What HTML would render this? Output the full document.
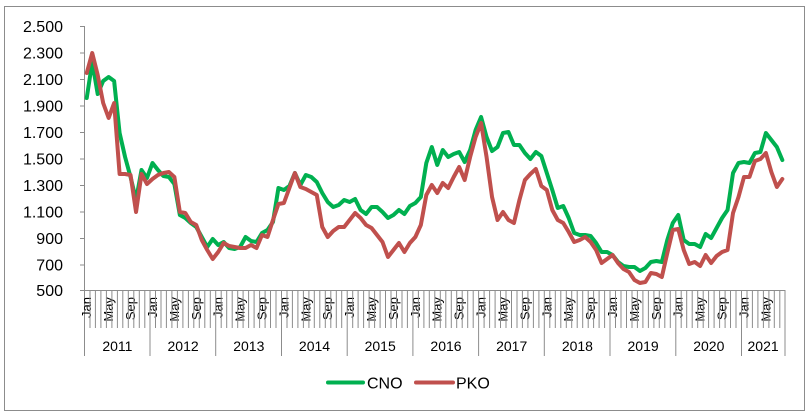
<!DOCTYPE html>
<html><head><meta charset="utf-8"><style>
html,body{margin:0;padding:0;background:#fff;}
svg{display:block;font-family:"Liberation Sans",Arial,sans-serif;}
</style></head><body>
<svg width="812" height="419" viewBox="0 0 812 419" xmlns="http://www.w3.org/2000/svg">
<rect x="0" y="0" width="812" height="419" fill="#fff"/>
<rect x="4.5" y="6.5" width="800" height="404" fill="none" stroke="#8c8c8c" stroke-width="1"/>
<g stroke="#8c8c8c" stroke-width="1" fill="none">
<line x1="84.5" y1="26" x2="84.5" y2="290"/>
<line x1="80" y1="26.5" x2="84.5" y2="26.5"/>
<line x1="80" y1="53" x2="84.5" y2="53"/>
<line x1="80" y1="79.5" x2="84.5" y2="79.5"/>
<line x1="80" y1="106" x2="84.5" y2="106"/>
<line x1="80" y1="132.5" x2="84.5" y2="132.5"/>
<line x1="80" y1="159" x2="84.5" y2="159"/>
<line x1="80" y1="185.5" x2="84.5" y2="185.5"/>
<line x1="80" y1="212" x2="84.5" y2="212"/>
<line x1="80" y1="238.5" x2="84.5" y2="238.5"/>
<line x1="80" y1="265" x2="84.5" y2="265"/>
<line x1="80" y1="290.5" x2="785" y2="290.5"/>
</g>
<g stroke="#8c8c8c" stroke-width="1" id="ticks">
<line x1="84.5" y1="290" x2="84.5" y2="356"/>
</g>
<g fill="#000" font-size="16" text-anchor="end">
<text x="63" y="32">2.500</text>
<text x="63" y="58.5">2.300</text>
<text x="63" y="85">2.100</text>
<text x="63" y="111.5">1.900</text>
<text x="63" y="138">1.700</text>
<text x="63" y="164.5">1.500</text>
<text x="63" y="191">1.300</text>
<text x="63" y="217.5">1.100</text>
<text x="63" y="244">900</text>
<text x="63" y="270.5">700</text>
<text x="63" y="296">500</text>
</g>
<g fill="#000" font-size="13" text-anchor="end">
<text transform="translate(91.2,297) rotate(-90)">Jan</text><text transform="translate(113.1,297) rotate(-90)">May</text><text transform="translate(135,297) rotate(-90)">Sep</text>
<text transform="translate(157,297) rotate(-90)">Jan</text><text transform="translate(178.9,297) rotate(-90)">May</text><text transform="translate(200.8,297) rotate(-90)">Sep</text>
<text transform="translate(222.7,297) rotate(-90)">Jan</text><text transform="translate(244.6,297) rotate(-90)">May</text><text transform="translate(266.5,297) rotate(-90)">Sep</text>
<text transform="translate(288.4,297) rotate(-90)">Jan</text><text transform="translate(310.3,297) rotate(-90)">May</text><text transform="translate(332.2,297) rotate(-90)">Sep</text>
<text transform="translate(354.1,297) rotate(-90)">Jan</text><text transform="translate(376,297) rotate(-90)">May</text><text transform="translate(397.9,297) rotate(-90)">Sep</text>
<text transform="translate(419.8,297) rotate(-90)">Jan</text><text transform="translate(441.7,297) rotate(-90)">May</text><text transform="translate(463.6,297) rotate(-90)">Sep</text>
<text transform="translate(485.6,297) rotate(-90)">Jan</text><text transform="translate(507.5,297) rotate(-90)">May</text><text transform="translate(529.4,297) rotate(-90)">Sep</text>
<text transform="translate(551.3,297) rotate(-90)">Jan</text><text transform="translate(573.2,297) rotate(-90)">May</text><text transform="translate(595.1,297) rotate(-90)">Sep</text>
<text transform="translate(617,297) rotate(-90)">Jan</text><text transform="translate(638.9,297) rotate(-90)">May</text><text transform="translate(660.8,297) rotate(-90)">Sep</text>
<text transform="translate(682.7,297) rotate(-90)">Jan</text><text transform="translate(704.6,297) rotate(-90)">May</text><text transform="translate(726.5,297) rotate(-90)">Sep</text>
<text transform="translate(748.5,297) rotate(-90)">Jan</text><text transform="translate(770.4,297) rotate(-90)">May</text>
</g>
<g fill="#000" font-size="14" text-anchor="middle">
<text x="117.4" y="351">2011</text>
<text x="183.1" y="351">2012</text>
<text x="248.8" y="351">2013</text>
<text x="314.5" y="351">2014</text>
<text x="380.2" y="351">2015</text>
<text x="446" y="351">2016</text>
<text x="511.7" y="351">2017</text>
<text x="577.4" y="351">2018</text>
<text x="643.1" y="351">2019</text>
<text x="708.8" y="351">2020</text>
<text x="763.1" y="351">2021</text>
</g>
<g stroke="#8c8c8c" stroke-width="1">
<line x1="90" y1="290" x2="90" y2="328"/><line x1="95.4" y1="290" x2="95.4" y2="328"/><line x1="100.9" y1="290" x2="100.9" y2="328"/><line x1="106.4" y1="290" x2="106.4" y2="328"/><line x1="111.9" y1="290" x2="111.9" y2="328"/><line x1="117.4" y1="290" x2="117.4" y2="328"/><line x1="122.8" y1="290" x2="122.8" y2="328"/><line x1="128.3" y1="290" x2="128.3" y2="328"/><line x1="133.8" y1="290" x2="133.8" y2="328"/><line x1="139.3" y1="290" x2="139.3" y2="328"/><line x1="144.8" y1="290" x2="144.8" y2="328"/>
<line x1="150" y1="290" x2="150" y2="356"/><line x1="215.7" y1="290" x2="215.7" y2="356"/><line x1="281.5" y1="290" x2="281.5" y2="356"/><line x1="347.2" y1="290" x2="347.2" y2="356"/><line x1="412.9" y1="290" x2="412.9" y2="356"/><line x1="478.6" y1="290" x2="478.6" y2="356"/><line x1="544.3" y1="290" x2="544.3" y2="356"/><line x1="610" y1="290" x2="610" y2="356"/><line x1="675.8" y1="290" x2="675.8" y2="356"/><line x1="741.5" y1="290" x2="741.5" y2="356"/><line x1="785" y1="290" x2="785" y2="356"/>
</g>
<g stroke="#8c8c8c" stroke-width="1" id="mt"></g>
<g transform="translate(86.74,0) scale(5.477,1)" fill="none" stroke-linejoin="round" stroke-linecap="round">
<polyline vector-effect="non-scaling-stroke" stroke="#00B050" stroke-width="4" points="0,98 1,62 2,94 3,81 4,77 5,81 6,133 7,157 8,177 9,200 10,170 11,178 12,163 13,170 14,176 15,177 16,184 17,215 18,218 19,223 20,227 21,237 22,247 23,239 24,245 25,242 26,248 27,249 28,247 29,237 30,241 31,242 32,233 33,230 34,222 35,188 36,190 37,186 38,173 39,185 40,175 41,177 42,182 43,193 44,202 45,207 46,205 47,200 48,202 49,199 50,210 51,214 52,207 53,207 54,212 55,218 56,215 57,210 58,214 59,206 60,203 61,197 62,163 63,147 64,165 65,150 66,157 67,154 68,152 69,162 70,150 71,130 72,117 73,137 74,151 75,147 76,133 77,132 78,145 79,145 80,153 81,159 82,152 83,156 84,173 85,190 86,208 87,206 88,218 89,233 90,235 91,235 92,236 93,243 94,252 95,252 96,255 97,262 98,266 99,267 100,267 101,271 102,268 103,262 104,261 105,262 106,240 107,223 108,215 109,240 110,244 111,244 112,247 113,234 114,238 115,228 116,218 117,210 118,173 119,163 120,162 121,163 122,153 123,152 124,133 125,140 126,147 127,160"/>
<polyline vector-effect="non-scaling-stroke" stroke="#C0504D" stroke-width="4" points="0,73 1,53 2,75 3,103 4,118 5,103 6,174 7,174 8,175 9,212 10,174 11,184 12,179 13,175 14,173 15,172 16,177 17,212 18,213 19,222 20,225 21,240 22,250 23,259 24,252 25,243 26,246 27,247 28,248 29,248 30,245 31,248 32,235 33,237 34,220 35,204 36,203 37,188 38,173 39,187 40,189 41,192 42,195 43,227 44,237 45,231 46,227 47,227 48,220 49,213 50,218 51,225 52,228 53,235 54,242 55,257 56,250 57,243 58,252 59,243 60,237 61,225 62,195 63,185 64,193 65,183 66,188 67,177 68,167 69,180 70,157 71,137 72,123 73,157 74,197 75,220 76,212 77,220 78,223 79,200 80,180 81,174 82,169 83,186 84,190 85,210 86,220 87,223 88,232 89,242 90,240 91,237 92,242 93,250 94,263 95,259 96,255 97,263 98,269 99,272 100,280 101,283 102,282 103,273 104,274 105,277 106,253 107,230 108,229 109,250 110,264 111,262 112,266 113,255 114,263 115,256 116,252 117,250 118,213 119,197 120,177 121,177 122,161 123,159 124,153 125,172 126,187 127,179"/>
</g>
<line x1="328" y1="382.5" x2="363" y2="382.5" stroke="#00B050" stroke-width="4" stroke-linecap="round"/>
<text x="367" y="388.5" font-size="16" fill="#000">CNO</text>
<line x1="416" y1="382.5" x2="453" y2="382.5" stroke="#C0504D" stroke-width="4" stroke-linecap="round"/>
<text x="456" y="388.5" font-size="16" fill="#000">PKO</text>
<g stroke="#8c8c8c" stroke-width="1">
<path d="M155.5 290V328M161 290V328M166.4 290V328M171.9 290V328M177.4 290V328M182.9 290V328M188.4 290V328M193.8 290V328M199.3 290V328M204.8 290V328M210.3 290V328
M221.2 290V328M226.7 290V328M232.2 290V328M237.7 290V328M243.1 290V328M248.6 290V328M254.1 290V328M259.6 290V328M265.1 290V328M270.5 290V328M276 290V328
M287 290V328M292.4 290V328M297.9 290V328M303.4 290V328M308.9 290V328M314.3 290V328M319.8 290V328M325.3 290V328M330.8 290V328M336.3 290V328M341.7 290V328
M352.7 290V328M358.1 290V328M363.6 290V328M369.1 290V328M374.6 290V328M380.1 290V328M385.5 290V328M391 290V328M396.5 290V328M402 290V328M407.4 290V328
M418.4 290V328M423.9 290V328M429.3 290V328M434.8 290V328M440.3 290V328M445.8 290V328M451.3 290V328M456.7 290V328M462.2 290V328M467.7 290V328M473.2 290V328
M484.1 290V328M489.6 290V328M495.1 290V328M500.5 290V328M506 290V328M511.5 290V328M517 290V328M522.4 290V328M527.9 290V328M533.4 290V328M538.9 290V328
M549.8 290V328M555.3 290V328M560.8 290V328M566.3 290V328M571.7 290V328M577.2 290V328M582.7 290V328M588.2 290V328M593.6 290V328M599.1 290V328M604.6 290V328
M615.5 290V328M621 290V328M626.5 290V328M632 290V328M637.4 290V328M642.9 290V328M648.4 290V328M653.9 290V328M659.3 290V328M664.8 290V328M670.3 290V328
M681.2 290V328M686.7 290V328M692.2 290V328M697.7 290V328M703.2 290V328M708.6 290V328M714.1 290V328M719.6 290V328M725.1 290V328M730.5 290V328M736 290V328
M747 290V328M752.4 290V328M757.9 290V328M763.4 290V328M768.9 290V328M774.3 290V328M779.8 290V328"/>
</g>
</svg>
</body></html>
